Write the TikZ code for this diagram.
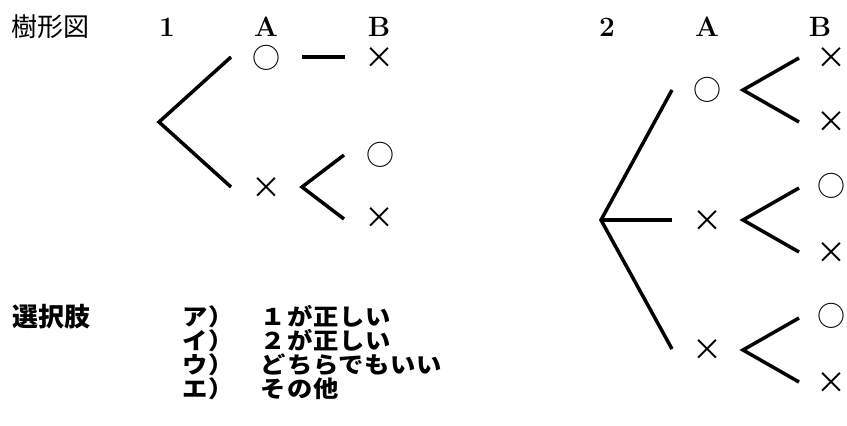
\documentclass[tikz,border=0pt]{standalone}
\usepackage{fontspec}
\newfontfamily\jpr{Noto Sans CJK JP}
\newfontfamily\jpo{Noto Sans CJK JP}[FakeStretch=1.1,LetterSpace=4]
\begin{document}
\begin{tikzpicture}[x=1pt,y=-1pt,
  br/.style={line width=3.5pt},
  hd/.style={font=\jpr\fontsize{26}{26}\selectfont,anchor=west,inner sep=0pt},
  hdb/.style={font=\jpr\bfseries\fontsize{26}{26}\selectfont,anchor=west,inner sep=0pt},
  lat/.style={font=\fontsize{28}{28}\selectfont\bfseries,anchor=base,inner sep=0pt},
  mko/.style={font=\jpr\fontsize{28}{28}\selectfont,inner sep=0pt},
  mkx/.style={font=\jpr\fontsize{30}{30}\selectfont,inner sep=0pt},
  opt/.style={font=\jpo\bfseries\fontsize{23}{23}\selectfont,anchor=west,inner sep=0pt}]
\useasboundingbox (0,0) rectangle (847,426);
% headings
\node[hd] (title) at (11,27) {樹形図};
\node[lat] (n1) at (167,36) {1};
\node[lat] (a1) at (266,36) {A};
\node[lat] (b1) at (379,36) {B};
\node[lat] (n2) at (607,36) {2};
\node[lat] (a2) at (707,36) {A};
\node[lat] (b2) at (820,36) {B};
% tree 1 marks
\node[mko] (t1a1) at (266,58) {○};
\node[mkx] (t1a2) at (266,188) {×};
\node[mkx] (t1b1) at (379,58) {×};
\node[mko] (t1b2) at (380,155) {○};
\node[mkx] (t1b3) at (379,218) {×};
% tree 1 lines
\coordinate (r1) at (159,122);
\coordinate (r1u) at (231,57);
\coordinate (r1d) at (231,187);
\coordinate (d1a) at (302,57);
\coordinate (d1b) at (345,57);
\coordinate (s1) at (302,187);
\coordinate (s1u) at (344,155);
\coordinate (s1d) at (344,219);
\draw[br] (r1u) -- (r1) -- (r1d);
\draw[br] (d1a) -- (d1b);
\draw[br] (s1u) -- (s1) -- (s1d);
% tree 2 marks
\node[mko] (t2a1) at (707,90) {○};
\node[mkx] (t2a2) at (707,221) {×};
\node[mkx] (t2a3) at (707,350) {×};
\node[mkx] (t2b1) at (831,58) {×};
\node[mkx] (t2b2) at (831,122) {×};
\node[mko] (t2b3) at (831,186) {○};
\node[mkx] (t2b4) at (831,253) {×};
\node[mko] (t2b5) at (831,316) {○};
\node[mkx] (t2b6) at (831,383) {×};
% tree 2 lines
\coordinate (r2) at (601,220);
\coordinate (r2u) at (672,90);
\coordinate (r2m) at (672,220);
\coordinate (r2d) at (672,349);
\draw[br] (r2u) -- (r2) -- (r2d);
\draw[br] (r2) -- (r2m);
\coordinate (p1) at (743,90);
\coordinate (p1u) at (799,58);
\coordinate (p1d) at (799,122);
\coordinate (p2) at (743,220);
\coordinate (p2u) at (799,188);
\coordinate (p2d) at (799,252);
\coordinate (p3) at (743,350);
\coordinate (p3u) at (799,318);
\coordinate (p3d) at (799,382);
\draw[br] (p1u) -- (p1) -- (p1d);
\draw[br] (p2u) -- (p2) -- (p2d);
\draw[br] (p3u) -- (p3) -- (p3d);
% options
\node[hdb] (sel) at (12,317) {選択肢};
\node[opt] (o1) at (182,317) {ア）　１が正しい};
\node[opt] (o2) at (182,341) {イ）　２が正しい};
\node[opt] (o3) at (182,365) {ウ）　どちらでもいい};
\node[opt] (o4) at (182,389) {エ）　その他};
\end{tikzpicture}
\end{document}
